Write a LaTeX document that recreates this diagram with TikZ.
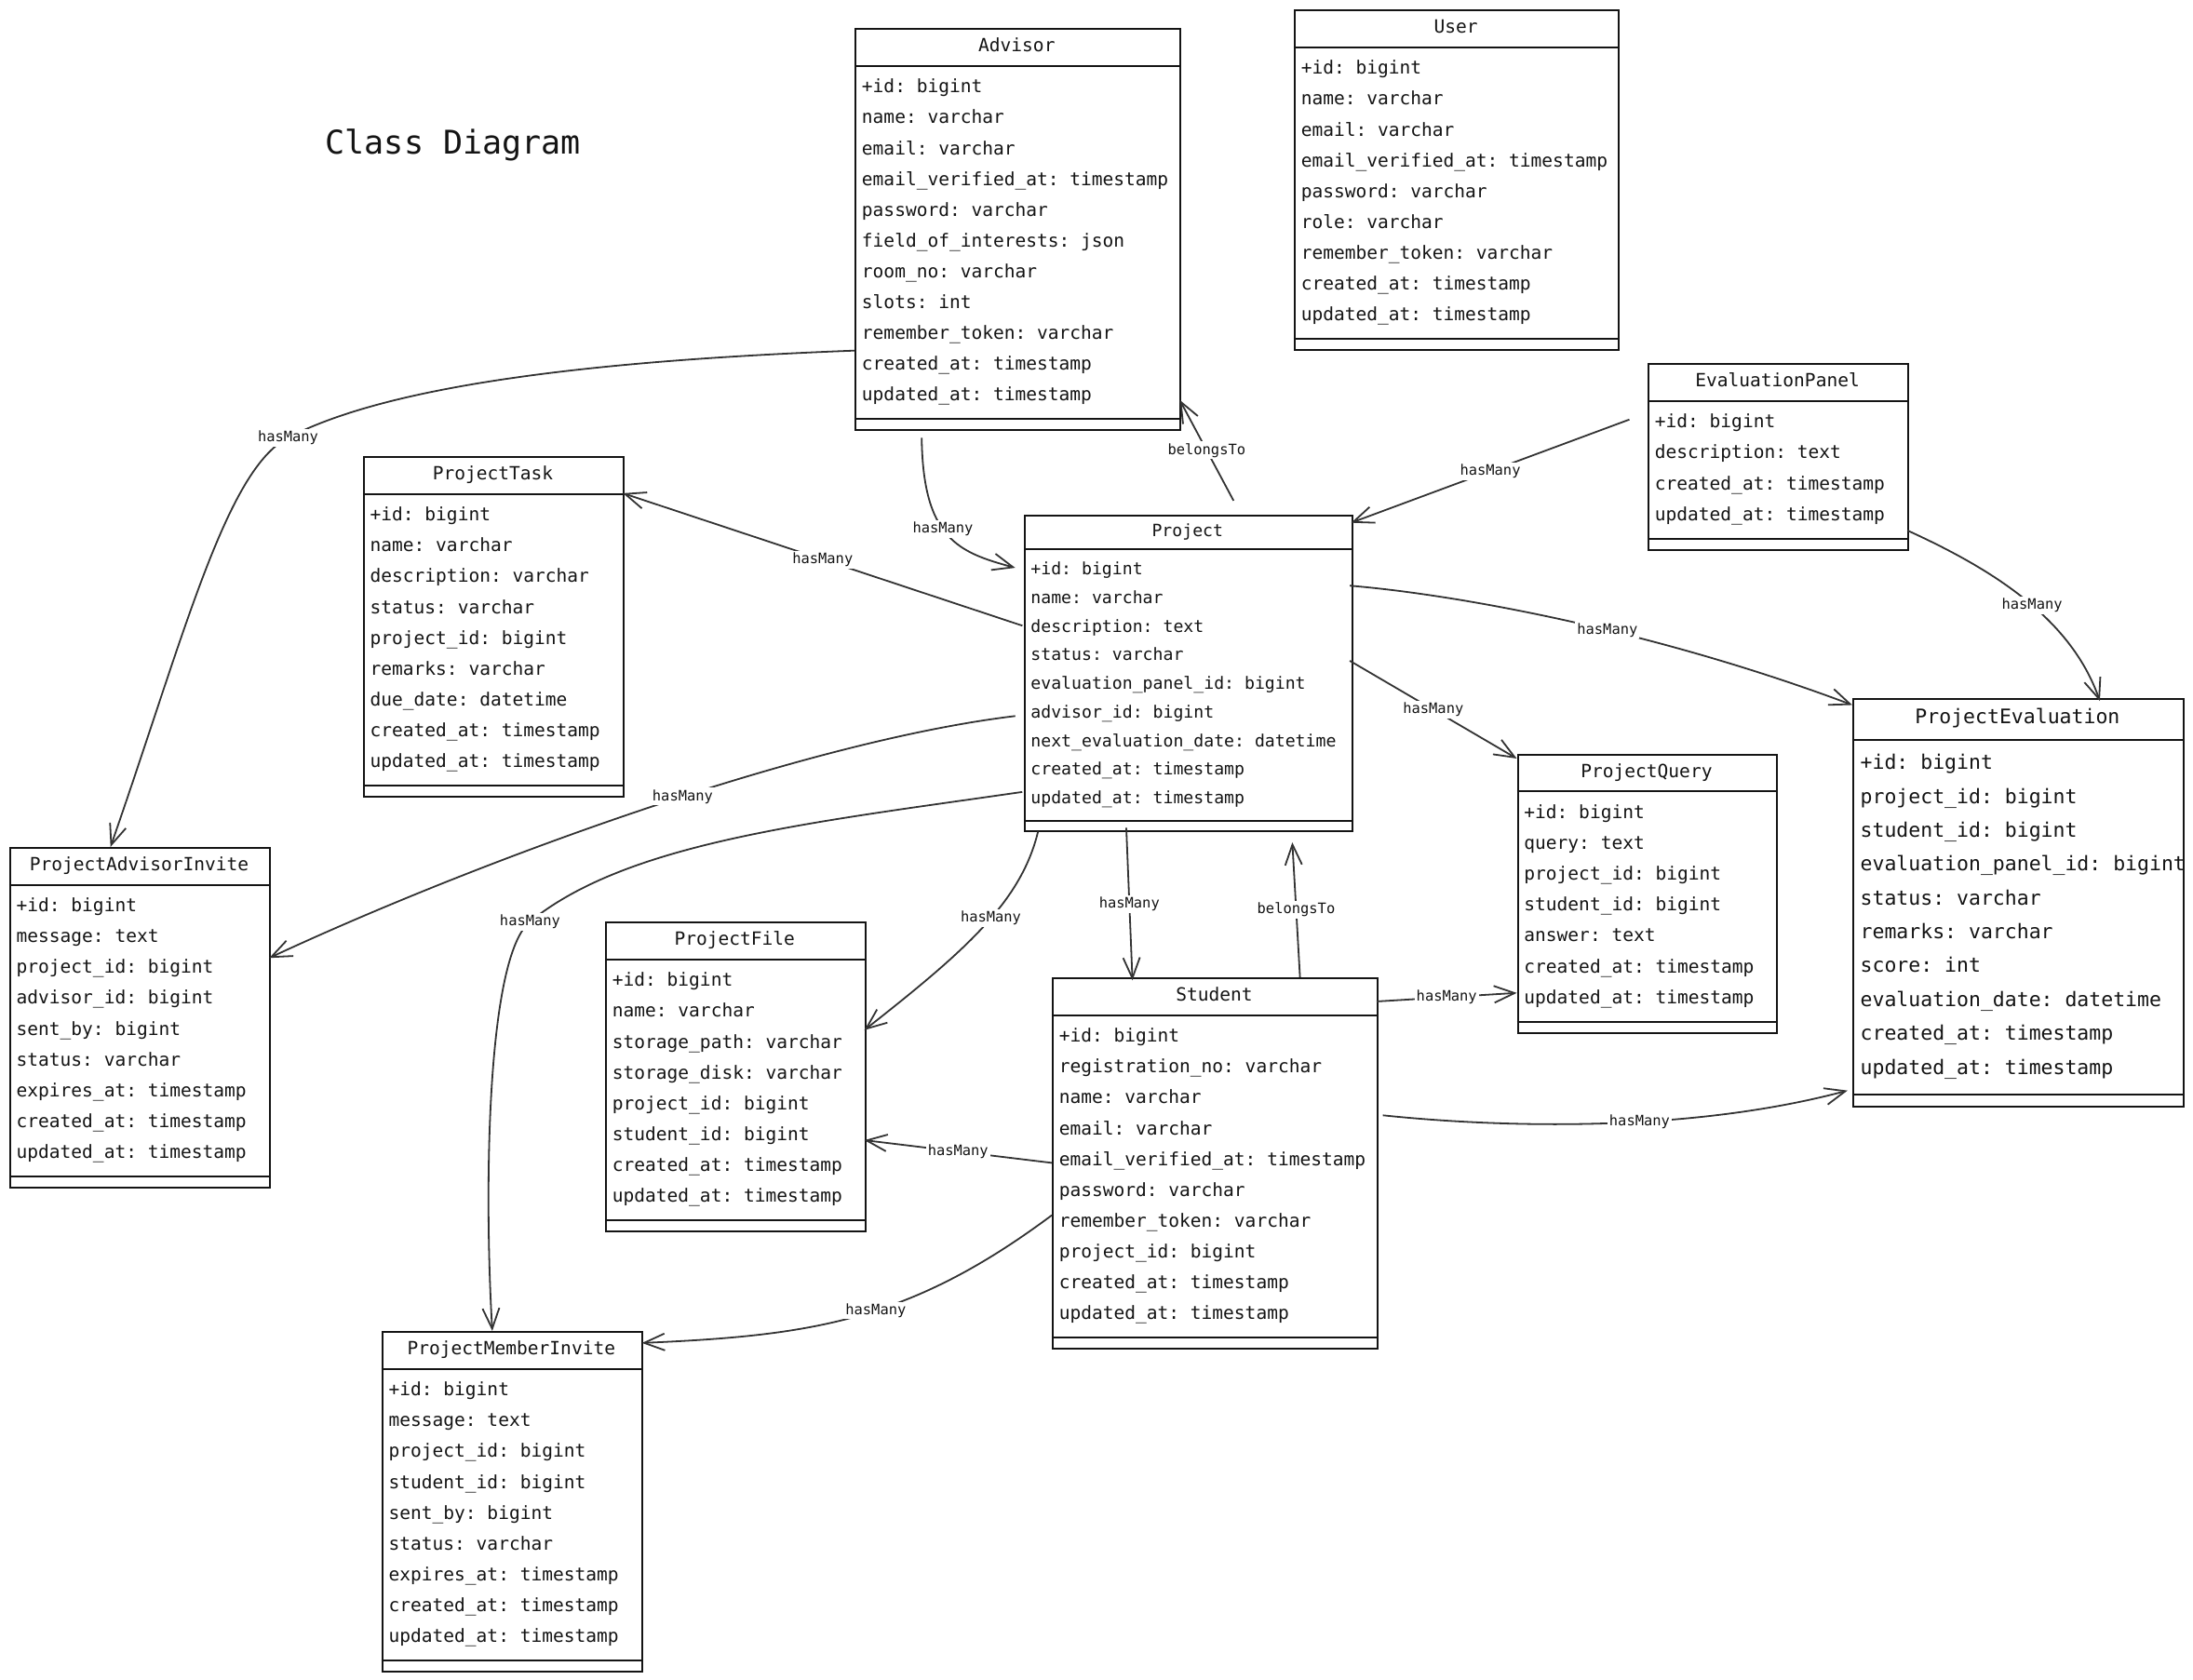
\documentclass[tikz,border=0pt]{standalone}
\usepackage{fontspec}
\usetikzlibrary{arrows.meta}
\newfontfamily\umlmono{DejaVu Sans Mono}
\frenchspacing
\definecolor{umlline}{HTML}{333333}
\definecolor{umltext}{HTML}{141414}

\tikzset{
  classframe/.style={draw=umltext, line width=1pt, fill=white, inner sep=0pt, anchor=north west},
  ctitle/.style={anchor=base, inner sep=0pt, text=umltext},
  attr/.style={anchor=base west, inner sep=0pt, text=umltext},
  rel/.style={draw=umlline, line width=0.9pt, -{Straight Barb[length=11pt,width=9pt]}},
  rellabel/.style={fill=white, inner sep=1pt, text=umltext, font=\umlmono\fontsize{7.7}{8}\selectfont},
}

% #1 name, #2 title, #3 x, #4 y, #5 width, #6 scale, #7 rows, #8 attributes
\newcommand\classbox[8]{%
  \pgfmathsetmacro\cbh{#6*(45+22*#7)}%
  \pgfmathsetmacro\cbfs{9.75*#6}%
  \node[classframe, minimum width={#5*0.75pt}, minimum height={\cbh*0.75pt}] (#1) at (#3,#4) {};
  \draw[umltext, line width=1pt] (#3,{#4+27*#6}) -- ++(#5,0);
  \draw[umltext, line width=1pt] (#3,{#4+#6*(37.5+22*#7)}) -- ++(#5,0);
  \node[ctitle, font=\umlmono\fontsize{\cbfs}{\cbfs}\selectfont] (#1-title) at ({#3+#5/2},{#4+16.8*#6}) {#2};
  \foreach \a [count=\i] in {#8}
    \node[attr, font=\umlmono\fontsize{\cbfs}{\cbfs}\selectfont] (#1-\i) at ({#3+5*#6},{#4+#6*(24.5+22*\i)}) {\a};
}

\begin{document}
\begin{tikzpicture}[x=0.75pt, y=-0.75pt]
  \useasboundingbox (0,0) rectangle (1568,1201);

  \node[anchor=base, inner sep=0pt, text=umltext, font=\umlmono\fontsize{17.5}{20}\selectfont] (diagtitle) at (324,110) {Class Diagram};

  \classbox{advisor}{Advisor}{611}{20}{232}{1}{11}{+id: bigint, name: varchar, email: varchar, email\_verified\_at: timestamp, password: varchar, field\_of\_interests: json, room\_no: varchar, slots: int, remember\_token: varchar, created\_at: timestamp, updated\_at: timestamp}
  \classbox{user}{User}{925}{6.7}{232}{1}{9}{+id: bigint, name: varchar, email: varchar, email\_verified\_at: timestamp, password: varchar, role: varchar, remember\_token: varchar, created\_at: timestamp, updated\_at: timestamp}
  \classbox{evalpanel}{EvaluationPanel}{1178}{259.6}{185.8}{1}{4}{+id: bigint, description: text, created\_at: timestamp, updated\_at: timestamp}
  \classbox{task}{ProjectTask}{259.4}{326.1}{186}{1}{9}{+id: bigint, name: varchar, description: varchar, status: varchar, project\_id: bigint, remarks: varchar, due\_date: datetime, created\_at: timestamp, updated\_at: timestamp}
  \classbox{project}{Project}{732.1}{367.8}{234}{0.93}{9}{+id: bigint, name: varchar, description: text, status: varchar, evaluation\_panel\_id: bigint, advisor\_id: bigint, next\_evaluation\_date: datetime, created\_at: timestamp, updated\_at: timestamp}
  \classbox{advinvite}{ProjectAdvisorInvite}{6.5}{605.6}{186}{1}{9}{+id: bigint, message: text, project\_id: bigint, advisor\_id: bigint, sent\_by: bigint, status: varchar, expires\_at: timestamp, created\_at: timestamp, updated\_at: timestamp}
  \classbox{file}{ProjectFile}{432.6}{658.9}{185.4}{1}{8}{+id: bigint, name: varchar, storage\_path: varchar, storage\_disk: varchar, project\_id: bigint, student\_id: bigint, created\_at: timestamp, updated\_at: timestamp}
  \classbox{query}{ProjectQuery}{1084.5}{539}{185.6}{1}{7}{+id: bigint, query: text, project\_id: bigint, student\_id: bigint, answer: text, created\_at: timestamp, updated\_at: timestamp}
  \classbox{evaluation}{ProjectEvaluation}{1324.4}{499.1}{236.2}{1.1}{10}{+id: bigint, project\_id: bigint, student\_id: bigint, evaluation\_panel\_id: bigint, status: varchar, remarks: varchar, score: int, evaluation\_date: datetime, created\_at: timestamp, updated\_at: timestamp}
  \classbox{student}{Student}{752}{698.8}{232.3}{1}{10}{+id: bigint, registration\_no: varchar, name: varchar, email: varchar, email\_verified\_at: timestamp, password: varchar, remember\_token: varchar, project\_id: bigint, created\_at: timestamp, updated\_at: timestamp}
  \classbox{memberinvite}{ProjectMemberInvite}{272.7}{951.7}{185.8}{1}{9}{+id: bigint, message: text, project\_id: bigint, student\_id: bigint, sent\_by: bigint, status: varchar, expires\_at: timestamp, created\_at: timestamp, updated\_at: timestamp}

  \draw[rel] ([shift={(0,230.7)}]advisor.north west) .. controls (420,258) and (277,276) .. (206,313) node[rellabel] {hasMany}
    .. controls (161.5,336) and (131.5,455) .. ([shift={(72.5,0)}]advinvite.north west);
  \draw[rel] ([shift={(48,293)}]advisor.north west) .. controls (660,385) and (685,395) .. node[rellabel, pos=0.45] {hasMany} ([shift={(-6.2,38.2)}]project.north west);
  \draw[rel] ([shift={(149.9,-9.8)}]project.north west) -- node[rellabel] {belongsTo} ([shift={(232.5,266)}]advisor.north west);
  \draw[rel] ([shift={(-1.1,79.6)}]project.north west) -- node[rellabel] {hasMany} ([shift={(186,26.6)}]task.north west);
  \draw[rel] ([shift={(-13,40.4)}]evalpanel.north west) -- node[rellabel] {hasMany} ([shift={(234,6)}]project.north west);
  \draw[rel] ([shift={(185.8,119.7)}]evalpanel.north west) .. controls (1420,405) and (1480,440) .. node[rellabel, pos=0.55] {hasMany} ([shift={(177,2.2)}]evaluation.north west);
  \draw[rel] ([shift={(233,51)}]project.north west) .. controls (1040,425) and (1180,450) .. node[rellabel, pos=0.58] {hasMany} ([shift={(0,5)}]evaluation.north west);
  \draw[rel] ([shift={(233,104.7)}]project.north west) -- node[rellabel] {hasMany} ([shift={(0,3.4)}]query.north west);
  \draw[rel] ([shift={(-6.2,144.2)}]project.north west) .. controls (576,530) and (343,615) .. node[rellabel, pos=0.45] {hasMany} ([shift={(186,79.4)}]advinvite.north west);
  \draw[rel] ([shift={(-1.2,198.5)}]project.north west) .. controls (581,588) and (449,602) .. (379,659) node[rellabel] {hasMany}
    .. controls (348,684) and (346,850) .. ([shift={(79.3,0)}]memberinvite.north west);
  \draw[rel] ([shift={(10.1,226.8)}]project.north west) .. controls (730,645) and (690,680) .. node[rellabel, pos=0.45] {hasMany} ([shift={(185.4,77.7)}]file.north west);
  \draw[rel] ([shift={(73.2,224.1)}]project.north west) -- node[rellabel] {hasMany} ([shift={(57.7,2.2)}]student.north west);
  \draw[rel] ([shift={(177.5,0)}]student.north west) -- node[rellabel] {belongsTo} ([shift={(191.9,234.5)}]project.north west);
  \draw[rel] ([shift={(232.3,17.3)}]student.north west) -- node[rellabel] {hasMany} ([shift={(0,171)}]query.north west);
  \draw[rel] ([shift={(236.7,98.7)}]student.north west) .. controls (1060,805) and (1200,812) .. node[rellabel, pos=0.6] {hasMany} ([shift={(-3.4,280.7)}]evaluation.north west);
  \draw[rel] ([shift={(0,132.7)}]student.north west) -- node[rellabel] {hasMany} ([shift={(185.4,156.4)}]file.north west);
  \draw[rel] ([shift={(0,170.2)}]student.north west) .. controls (650,945) and (580,955) .. node[rellabel, pos=0.45] {hasMany} ([shift={(186.3,8.6)}]memberinvite.north west);
\end{tikzpicture}
\end{document}
